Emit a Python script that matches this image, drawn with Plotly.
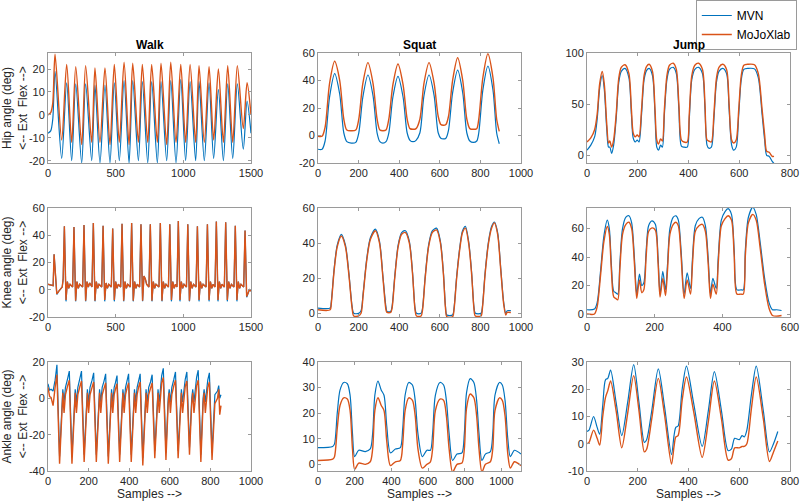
import plotly.graph_objects as go
from plotly.subplots import make_subplots

# ---------------- Walk ----------------
walk_hip_x = [0, 20, 35, 52, 101, 138, 175, 205, 249, 278, 323, 347, 384, 421, 458,
              490, 527, 562, 599, 626, 668, 697, 737, 766, 808, 835, 877, 907, 946,
              981, 1017, 1050, 1091, 1116, 1155, 1190, 1224, 1259, 1296, 1328, 1365,
              1399, 1443, 1471, 1500]
walk_hip_mvn = [-8, -7, -2, 19, -19, 14, -20, 13.5, -21, 13.5, -20, 13, -21, 13, -21,
                14, -20, 15, -21, 15, -20, 14.5, -21, 14.5, -21, 14.5, -20, 15, -21,
                15.5, -20, 14.5, -20, 14.5, -20, 14, -19, 11, -20, 13.5, -19,
                13.5, -15, 6, -8]
walk_hip_mojo = [0, 1, 5, 26.5, -11, 22, -12, 21, -13, 21.5, -12, 20.5, -12, 20.5, -13,
                 22, -12, 23, -13, 22.5, -12, 22, -12, 22, -12, 22.5, -13, 23, -12,
                 22, -12, 22, -12, 21.5, -12, 21, -11, 20, -12, 21.5, -12,
                 21.5, -6, 14, 0]

walk_knee_x = [0, 30, 38, 45, 55, 65, 80, 105, 112,
               121, 133, 143, 153, 163, 182,
               192, 204, 214, 224, 234, 256,
               266, 278, 288, 298, 308, 325,
               335, 347, 357, 367, 377, 397,
               407, 419, 429, 439, 449, 468,
               478, 490, 500, 510, 520, 537,
               547, 559, 569, 579, 589, 608,
               618, 630, 640, 650, 660, 677,
               687, 699, 709, 719, 729, 746,
               756, 768, 778, 788, 798, 820,
               830, 842, 852, 862, 872, 890,
               900, 912, 922, 932, 942, 953,
               963, 975, 985, 995, 1005, 1023,
               1033, 1045, 1055, 1065, 1075, 1094,
               1104, 1116, 1126, 1136, 1146, 1168,
               1178, 1190, 1200, 1210, 1220, 1234,
               1244, 1256, 1266, 1276, 1286, 1303,
               1313, 1325, 1335, 1345, 1355, 1374,
               1384, 1396, 1406, 1416, 1426, 1446,
               1456, 1468, 1478, 1488, 1500]
walk_knee_mvn = [4, 3.5, 3, 26, 10, -3.5, -1, 2, 8,
                 46.5, -8.5, 6, 1, 4, 2,
                 46, -8.5, 6, 1, 4, 2,
                 47.5, -8.5, 6, 2, 5, 2,
                 49, -8.5, 6, 1, 4, 2,
                 47, -8.5, 5, 1, 4, 2,
                 45, -8.5, 6, 1, 4, 2,
                 48.5, -8.5, 6, 1, 4, 2,
                 49, -8.5, 6, 1, 4, 2,
                 48, -8.5, 10, 8, 4, 2,
                 48, -8.5, 6, 1, 4, 2,
                 49, -8.5, 6, 1, 4, 2,
                 48, -8.5, 6, 1, 4, 2,
                 50.5, -8.5, 6, 1, 4, 2,
                 48, -8.5, 6, 1, 4, 2,
                 46.5, -8.5, 6, 1, 4, 2,
                 48, -8.5, 6, 1, 4, 2,
                 50, -8.5, 6, 1, 4, 2,
                 49.5, -8.5, 6, 1, 4, 2,
                 47, -8.5, 6, 1, 4, 2,
                 43.5, -5.5, -2, 0, -1]
walk_knee_mojo = [4, 3.5, 3, 26, 10, -3, -1, 2, 8,
                  46.5, -7.5, 6, 1, 4, 2,
                  46, -8, 6, 1, 4, 2,
                  47.5, -8, 6, 2, 5, 2,
                  49, -8, 6, 1, 4, 2,
                  47, -7.5, 5, 1, 4, 2,
                  45, -7.5, 6, 1, 4, 2,
                  48.5, -8, 6, 1, 4, 2,
                  49, -8, 6, 1, 4, 2,
                  48, -8, 10, 8, 4, 2,
                  48, -8, 6, 1, 4, 2,
                  49, -8, 6, 1, 4, 2,
                  48, -7.5, 6, 1, 4, 2,
                  50.5, -7.5, 6, 1, 4, 2,
                  48, -8, 6, 1, 4, 2,
                  46.5, -7.5, 6, 1, 4, 2,
                  48, -7.5, 6, 1, 4, 2,
                  50, -7.5, 6, 1, 4, 2,
                  49.5, -7.5, 6, 1, 4, 2,
                  47, -7.5, 6, 1, 4, 2,
                  43.5, -5, -2, 0, -1]

walk_ankle_x = [0, 8, 15, 25, 35,
                44, 57, 68, 73, 79, 86, 97,
                105, 118, 129, 134, 140, 147, 157,
                165, 178, 189, 194, 200, 207, 217,
                225, 238, 249, 254, 260, 267, 276,
                284, 297, 308, 313, 319, 326, 332,
                340, 353, 364, 369, 375, 382, 389,
                397, 410, 421, 426, 432, 439, 446,
                454, 467, 478, 483, 489, 496, 505,
                513, 526, 537, 542, 548, 555, 560,
                568, 581, 592, 597, 603, 610, 620,
                628, 641, 652, 657, 663, 670, 676,
                684, 697, 708, 713, 719, 726, 732,
                740, 753, 764, 769, 775, 782, 787,
                795, 808, 822, 835, 841, 846, 852]
walk_ankle_mvn = [8, 4.5, 5, 4, 10,
                  18.5, -32, 0, 5, -2, 6, 11,
                  15, -32, 0, 5, -2, 6, 11,
                  15, -31, 0, 5, -2, 6, 10,
                  14, -31, 0, 5, -2, 6, 9.5,
                  13.5, -32, 0, 5, -2, 6, 8.5,
                  12.5, -31, 0, 5, -2, 6, 9.5,
                  13.5, -31, 0, 5, -2, 6, 9.5,
                  13.5, -33, 0, 5, -2, 6, 9,
                  13, -29, 0, 5, -2, 6, 12.5,
                  16.5, -30, 0, 5, -2, 6, 10.5,
                  14.5, -29, 0, 5, -2, 6, 10.5,
                  14.5, -27, 0, 5, -2, 6, 11.5,
                  15.5, -31, 0, 5, -2, 6, 10,
                  14, -30, 2, 4, 7, 0, 2]
walk_ankle_mojo = [6, 1, 0.5, -4, 6,
                   13, -36, -3, 3, -8, 2, 7,
                   10, -36, -3, 3, -8, 2, 6.5,
                   9.5, -35, -3, 3, -8, 2, 6,
                   9, -35, -3, 3, -8, 2, 5.5,
                   8.5, -36, -3, 3, -8, 2, 5,
                   8, -35, -3, 3, -8, 2, 5.5,
                   8.5, -35, -3, 3, -8, 2, 6,
                   9, -37, -3, 3, -8, 2, 5.5,
                   8.5, -33, -3, 3, -8, 2, 8.5,
                   11.5, -34, -3, 3, -8, 2, 7,
                   10, -33, -3, 3, -8, 2, 6.5,
                   9.5, -31, -3, 3, -8, 2, 7,
                   10, -35, -3, 3, -8, 2, 6,
                   9, -34, -3, 0, 5, -9, -4]

# ---------------- Squat ----------------
squat_hip_x = [0, 20, 35, 57, 82, 107, 127, 142, 164, 186,
               201, 221, 246, 271, 291, 305, 320, 335, 349, 369,
               394, 419, 439, 453, 468, 483, 502, 522, 547, 572,
               592, 605, 617, 630, 643, 663, 688, 713, 733, 748,
               765, 782, 792, 812, 837, 862, 880, 893]
squat_hip_mvn = [-10, -10, -4, 28, 45, 30, 2, -4.5, -5.5, -5,
                 2, 28, 44, 29, 2, -4.5, -5.5, -4.5, 2, 28,
                 43, 28, 2, -3.5, -4.5, -3.5, 2, 29, 44, 29,
                 2, -2, -2.5, -2, 4, 31, 47.5, 31, 2, -4,
                 -5, -4, 2, 33, 50.5, 33, 2, -6]
squat_hip_mojo = [-0.5, -0.5, 6, 38, 54, 40, 12, 4, 3.5, 4,
                  12, 38, 53, 38, 12, 4, 3.5, 4, 12, 37,
                  52, 37, 12, 5, 4.5, 5, 12, 38, 53, 38,
                  14, 8, 7.5, 8, 14, 40, 56.5, 40, 12, 5,
                  4.5, 5, 12, 42, 59.5, 42, 12, 3]

squat_knee_x = [0, 60, 65, 80, 95, 115, 135, 152, 168, 176,
                200, 212, 222, 240, 258, 283, 303, 320, 335, 340,
                358, 365, 378, 395, 412, 431, 450, 466, 478, 485,
                508, 515, 528, 545, 563, 584, 603, 618, 628, 635,
                663, 670, 683, 700, 712, 726, 742, 757, 768, 775,
                803, 810, 823, 840, 855, 869, 885, 900, 915, 925,
                932, 950]
squat_knee_mvn = [3, 3, 6, 26, 39, 45, 39, 23, 4, 0,
                  0, 1.5, 11, 31, 43, 48, 41, 21, 3.5, 1,
                  1, 4, 21, 39, 46, 47, 41, 23, 3, 0,
                  0, 3, 21, 39, 47, 48.5, 41, 23, 4, -1,
                  -1, 3, 21, 39, 47, 49.5, 41, 23, 4, 0,
                  0, 4, 23, 41, 49.5, 52, 46, 26, 6, 0,
                  1.5, 1.5]
squat_knee_mojo = [2, 2, 5, 25, 38, 44, 38, 22, 3, -1.5,
                   -1.5, 0, 10, 30, 42, 47, 40, 20, 2, 0.5,
                   0.5, 3, 20, 38, 45, 46, 40, 22, 2, -1.5,
                   -1.5, 2, 20, 38, 46, 47.5, 40, 22, 3, -2,
                   -2, 2, 20, 38, 46, 48.5, 40, 22, 3, -1.5,
                   -1.5, 3, 22, 40, 48.5, 51.5, 45, 25, 5, -1,
                   0.5, 0.5]

squat_ankle_x = [0, 80, 90, 105, 120, 140, 160, 175, 188, 200,
                 222, 258, 285, 298, 310, 327, 345, 360, 375, 395,
                 422, 449, 462, 475, 495, 515, 530, 545, 569, 594,
                 613, 625, 640, 665, 685, 700, 715, 734, 758, 785,
                 798, 810, 830, 850, 865, 878, 894, 913, 940, 953,
                 965, 990, 1005, 1020, 1035, 1049, 1071, 1107]
squat_ankle_mvn = [6.5, 7, 8, 20, 29, 32, 31.5, 27, 12, 3,
                   5.5, 5, 6, 12, 27, 32.5, 29, 27, 15, 4.5,
                   6, 6.5, 14, 27, 32, 31, 25, 12, 3, 5.5,
                   5.5, 12, 27, 32, 31, 25, 12, 1.5, 4, 4.5,
                   12, 28, 33.5, 32, 25, 12, 1.5, 4, 5, 12,
                   27, 32, 31, 25, 10, 3, 5.5, 4]
squat_ankle_mojo = [1.5, 2, 3, 14, 23, 26, 25.5, 21, 6, -2,
                    0.5, 0, 1, 6, 21, 26, 23, 21, 9, -0.5,
                    1, 1.5, 8, 21, 26, 25, 19, 6, -1.5, 0,
                    1, 6, 21, 25.5, 25, 19, 6, -3, 0, 0.5,
                    6, 22, 27.5, 26, 19, 6, -3, 0, 1, 6,
                    21, 26, 25, 19, 4, -1.5, 1, -0.5]

# ---------------- Jump ----------------
jump_hip_x = [0, 15, 30, 40, 50, 60, 68, 78, 85, 90,
              97, 105, 115, 125, 135, 150, 165, 175, 182, 190,
              198, 205, 215, 225, 235, 245, 258, 268, 275, 282,
              290, 297, 305, 315, 325, 340, 352, 362, 372, 382,
              395, 403, 413, 425, 440, 455, 465, 473, 480, 490,
              500, 510, 520, 535, 550, 560, 570, 578, 588, 598,
              608, 618, 635, 660, 675, 690, 700, 708, 718, 730,
              737]
jump_hip_mvn = [5, 10, 18, 35, 66, 78, 65, 25, 8, 8,
                2, 10, 36, 71, 82, 85, 76, 40, 17, 13,
                15, 13, 40, 74, 83, 85, 78, 40, 8, 5,
                10, 8, 40, 74, 84, 86, 80, 45, 9, 8,
                8, 35, 74, 84, 86, 80, 45, 10, 7, 8,
                35, 71, 82, 85, 80, 45, 10, 5, 8, 40,
                74, 84, 85, 84.5, 76, 40, 15, 0, -1, -6,
                -8]
jump_hip_mojo = [13, 17, 25, 40, 70, 82, 70, 30, 12, 14,
                 8, 15, 40, 75, 86, 88.5, 80, 45, 22, 18,
                 20, 18, 45, 78, 87, 89, 82, 45, 15, 11,
                 16, 14, 45, 78, 88, 90, 84, 50, 15, 13,
                 13, 40, 78, 88, 90, 84, 50, 15, 14, 13,
                 40, 75, 86, 89, 84, 50, 15, 12, 15, 45,
                 78, 88, 89, 88.5, 80, 45, 20, 4, 3, -1,
                 -1]

jump_knee_x = [0, 22, 30, 40, 50, 60, 66, 72, 79, 85,
               91, 97, 105, 115, 124, 132, 140, 147, 155, 162,
               168, 175, 182, 192, 202, 210, 216, 224, 232, 238,
               245, 255, 263, 270, 278, 287, 296, 306, 312, 320,
               331, 341, 350, 358, 365, 372, 382, 388, 397, 408,
               417, 427, 435, 443, 455, 462, 468, 477, 490, 500,
               512, 525, 538, 548, 560, 575]
jump_knee_mvn = [3, 3.5, 8, 30, 55, 66, 60, 35, 16, 15,
                 14, 35, 60, 68, 69, 64, 40, 14, 28, 20,
                 22, 45, 62, 65.5, 63, 40, 14, 30, 17, 35,
                 60, 68, 69, 66, 45, 14, 29, 18, 40, 62,
                 67, 68, 62, 40, 14, 25, 18, 40, 66, 72,
                 74, 70, 45, 17, 17, 17, 45, 68, 75, 70,
                 50, 25, 8, 3, 3, 2.5]
jump_knee_mojo = [0, 0, 5, 27, 51, 61.5, 56, 31, 12, 11,
                  10, 31, 56, 63, 64.5, 60, 36, 11, 24, 15,
                  17, 41, 58, 60.5, 59, 36, 12, 25, 13, 31,
                  56, 63, 64.5, 62, 41, 11, 24, 14, 36, 58,
                  62, 63, 58, 36, 11, 21, 14, 36, 62, 67,
                  69, 66, 41, 14, 14, 14, 41, 64, 70, 66,
                  46, 21, 4, -1, -1.5, -1]

jump_ankle_x = [0, 8, 26, 40, 50, 62, 73, 82, 93, 115,
                137, 160, 184, 205, 226, 235, 255, 281, 305, 333,
                343, 350, 359, 375, 392, 420, 454, 478, 502, 530,
                556, 569, 582, 600, 611, 620, 630, 648, 667, 695,
                719, 735, 752]
jump_ankle_mvn = [4.5, 5, 10, 6, 3.5, 14, 23.5, 24, 27, 15,
                  3, 15, 29, 15, 0.5, 1.5, 12, 27.5, 14, -4,
                  3, 6, 6.5, 20, 28.5, 15, -1, 12, 26.5, 12,
                  -2.5, -2, 2, 1.5, 3, 2.5, 5, 18, 28.5, 12,
                  -3, 0, 4.5]
jump_ankle_mojo = [0, 0.5, 5, 2, -0.5, 10, 17, 19.5, 23, 12,
                   -1.5, 11, 25, 12, -3, -2, 9, 24, 11, -7.5,
                   -1, 2.5, 3, 16, 24.5, 12, -5, 8, 23, 9,
                   -6, -5.5, -1.5, -1.5, -1, -1, 0, 13, 24.5, 9,
                   -6.5, -3, 1]

col_titles = ["Walk", "Squat", "Jump"]
row_titles = ["Hip angle (deg)", "Knee angle (deg)", "Ankle angle (deg)"]

x_ranges = [[[0, 1500], [0, 1000], [0, 800]],
            [[0, 1500], [0, 1000], [0, 600]],
            [[0, 1000], [0, 1107], [0, 800]]]
x_ticks = [[[0, 500, 1000, 1500], [0, 200, 400, 600, 800, 1000], [0, 200, 400, 600, 800]],
           [[0, 500, 1000, 1500], [0, 200, 400, 600, 800, 1000], [0, 200, 400, 600]],
           [[0, 200, 400, 600, 800, 1000], [0, 200, 400, 600, 800, 1000], [0, 200, 400, 600, 800]]]
y_ranges = [[[-21, 27], [-20, 60], [-7.5, 100]],
            [[-20, 60], [-2.1, 60], [-2.1, 74.5]],
            [[-40, 20], [-2.6, 40], [-10, 30]]]
y_ticks = [[[-20, -10, 0, 10, 20], [-20, 0, 20, 40, 60], [0, 50, 100]],
           [[-20, 0, 20, 40, 60], [0, 20, 40, 60], [0, 20, 40, 60]],
           [[-40, -20, 0, 20], [0, 10, 20, 30, 40], [-10, 0, 10, 20, 30]]]

panels = [
    [(walk_hip_x, walk_hip_mvn, walk_hip_mojo, "spline"),
     (squat_hip_x, squat_hip_mvn, squat_hip_mojo, "spline"),
     (jump_hip_x, jump_hip_mvn, jump_hip_mojo, "spline")],
    [(walk_knee_x, walk_knee_mvn, walk_knee_mojo, "linear"),
     (squat_knee_x, squat_knee_mvn, squat_knee_mojo, "spline"),
     (jump_knee_x, jump_knee_mvn, jump_knee_mojo, "spline")],
    [(walk_ankle_x, walk_ankle_mvn, walk_ankle_mojo, "linear"),
     (squat_ankle_x, squat_ankle_mvn, squat_ankle_mojo, "spline"),
     (jump_ankle_x, jump_ankle_mvn, jump_ankle_mojo, "spline")],
]

blue = "#0072BD"
orange = "#D95319"
axis_grey = "#9a9a9a"
text_col = "#262626"
font_family = "Liberation Sans, Arial, Helvetica, sans-serif"

x_domains = [[0.06, 0.31375], [0.3975, 0.65125], [0.73375, 0.9875]]
y_domains = [[0.6753, 0.8944], [0.3685, 0.5857], [0.0618, 0.2789]]

fig = make_subplots(rows=3, cols=3)

for r in range(3):
    for c in range(3):
        xs, mvn, mojo, shape = panels[r][c]
        first = (r == 0 and c == 0)
        fig.add_trace(go.Scatter(x=xs, y=mvn, mode="lines", name="MVN",
                                 line=dict(color=blue, width=1.2, shape=shape, smoothing=0.8),
                                 showlegend=first), row=r + 1, col=c + 1)
        fig.add_trace(go.Scatter(x=xs, y=mojo, mode="lines", name="MoJoXlab",
                                 line=dict(color=orange, width=1.4, shape=shape, smoothing=0.8),
                                 showlegend=first), row=r + 1, col=c + 1)

        fig.update_xaxes(domain=x_domains[c], range=x_ranges[r][c], automargin=False,
                         tickvals=x_ticks[r][c], ticktext=[str(v) for v in x_ticks[r][c]],
                         showline=True, linecolor=axis_grey, linewidth=1, mirror="ticks",
                         ticks="inside", ticklen=3, tickcolor=axis_grey,
                         showgrid=False, zeroline=False,
                         tickfont=dict(size=11, color=text_col),
                         title=dict(text="Samples --&gt;" if r == 2 else "",
                                    font=dict(size=12, color=text_col), standoff=3),
                         row=r + 1, col=c + 1)
        fig.update_yaxes(domain=y_domains[r], range=y_ranges[r][c], automargin=False,
                         tickvals=y_ticks[r][c], ticktext=[str(v) for v in y_ticks[r][c]],
                         showline=True, linecolor=axis_grey, linewidth=1, mirror="ticks",
                         ticks="inside", ticklen=3, tickcolor=axis_grey,
                         showgrid=False, zeroline=False,
                         tickfont=dict(size=11, color=text_col),
                         title=dict(text=(row_titles[r] + "<br>&lt;-- Ext&nbsp;&nbsp;Flex --&gt;") if c == 0 else "",
                                    font=dict(size=12, color=text_col), standoff=4),
                         row=r + 1, col=c + 1)

for c in range(3):
    fig.add_annotation(text="<b>" + col_titles[c] + "</b>", xref="paper", yref="paper",
                       x=(x_domains[c][0] + x_domains[c][1]) / 2, y=0.9104,
                       xanchor="center", yanchor="middle", showarrow=False,
                       font=dict(size=12, color="black"))

fig.update_layout(
    width=800, height=502,
    margin=dict(l=0, r=0, t=0, b=0, autoexpand=False),
    paper_bgcolor="white", plot_bgcolor="white",
    font=dict(family=font_family, color=text_col),
    legend=dict(x=0.996, xanchor="right", y=1.0, yanchor="top",
                bordercolor=axis_grey, borderwidth=1, bgcolor="white",
                font=dict(size=12, color="black"), tracegroupgap=0,
                itemwidth=30),
)

fig.write_html("out.html", config={"displayModeBar": False},
               post_script="document.body.style.margin='0';")
